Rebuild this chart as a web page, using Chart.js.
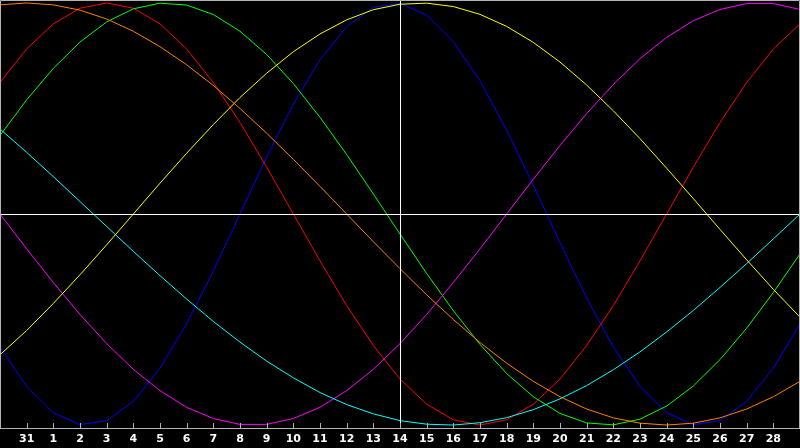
<!DOCTYPE html>
<html>
<head>
<meta charset="utf-8">
<script src="https://cdn.jsdelivr.net/npm/chart.js@4/dist/chart.umd.min.js"></script>
<style>
  html, body { margin: 0; padding: 0; background: #000; }
  #wrap { width: 800px; height: 448px; }
</style>
</head>
<body>
<div id="wrap"><canvas id="bio" width="800" height="448"></canvas></div>
<script>
// day labels (30 Jan .. 1 Mar), first and last are not printed
const days = ['30', '31', '1', '2', '3', '4', '5', '6', '7', '8', '9', '10', '11', '12', '13',
  '14', '15', '16', '17', '18', '19', '20', '21', '22', '23', '24', '25', '26', '27', '28', '1'];
const todayIndex = 15;

// cycle values in percent, one point per day
const physical = [-63.1, -81.7, -94.2, -99.8, -97.9, -88.8, -73.1, -52.0, -27.0, 0, 27.0, 52.0, 73.1, 88.8, 97.9,
  99.8, 94.2, 81.7, 63.1, 39.8, 13.6, -13.6, -39.8, -63.1, -81.7, -94.2, -99.8, -97.9, -88.8, -73.1, -52.0];
const emotional = [62.3, 78.2, 90.1, 97.5, 100, 97.5, 90.1, 78.2, 62.3, 43.4, 22.2, 0, -22.2, -43.4, -62.3,
  -78.2, -90.1, -97.5, -100, -97.5, -90.1, -78.2, -62.3, -43.4, -22.2, 0, 22.2, 43.4, 62.3, 78.2, 90.1];
const intellectual = [37.2, 54.1, 69.0, 81.5, 91.0, 97.2, 99.9, 99.0, 94.5, 86.6, 75.6, 61.8, 45.8, 28.2, 9.5,
  -9.5, -28.2, -45.8, -61.8, -75.6, -86.6, -94.5, -99.0, -99.9, -97.2, -91.0, -81.5, -69.0, -54.1, -37.2, -18.9];
const intuitive = [0, -16.5, -32.5, -47.6, -61.4, -73.6, -83.7, -91.6, -96.9, -99.7, -99.7, -96.9, -91.6, -83.7, -73.6,
  -61.4, -47.6, -32.5, -16.5, 0, 16.5, 32.5, 47.6, 61.4, 73.6, 83.7, 91.6, 96.9, 99.7, 99.7, 96.9];
const aesthetic = [-66.7, -55.2, -42.4, -28.8, -14.6, 0, 14.6, 28.8, 42.4, 55.2, 66.7, 76.9, 85.3, 92.0, 96.8,
  99.4, 99.9, 98.3, 94.6, 88.9, 81.3, 72.0, 61.1, 48.9, 35.7, 21.7, 7.3, -7.3, -21.7, -35.7, -48.9];
const awareness = [99.1, 100, 99.1, 96.6, 92.4, 86.6, 79.3, 70.7, 60.9, 50.0, 38.3, 25.9, 13.1, 0, -13.1,
  -25.9, -38.3, -50.0, -60.9, -70.7, -79.3, -86.6, -92.4, -96.6, -99.1, -100, -99.1, -96.6, -92.4, -86.6, -79.3];
const spiritual = [40.3, 29.2, 17.7, 5.9, -5.9, -17.7, -29.2, -40.3, -50.9, -60.7, -69.7, -77.6, -84.6, -90.3, -94.7,
  -97.9, -99.6, -100, -98.9, -96.5, -92.7, -87.6, -81.3, -73.8, -65.3, -55.9, -45.7, -34.8, -23.5, -11.8, 0];

const FRAME = '#b4b4b4';

function line(data, color) {
  return {
    data,
    borderColor: color,
    borderWidth: 1,
    pointRadius: 0,
    pointHoverRadius: 0,
    tension: 0,
    fill: false,
  };
}

// frame, inner tick marks and the white cross through today / zero
const overlay = {
  id: 'overlay',
  afterDatasetsDraw(chart) {
    const { ctx, chartArea: a, scales: { x, y } } = chart;
    ctx.save();
    ctx.lineWidth = 1;

    ctx.strokeStyle = '#ffffff';
    const y0 = Math.round(y.getPixelForValue(0)) + 0.5;
    const xt = Math.round(x.getPixelForValue(todayIndex)) + 0.5;
    ctx.beginPath();
    ctx.moveTo(a.left, y0); ctx.lineTo(a.right, y0);
    ctx.moveTo(xt, a.top); ctx.lineTo(xt, a.bottom);
    ctx.stroke();

    ctx.strokeStyle = FRAME;
    ctx.beginPath();
    ctx.moveTo(a.left + 0.5, a.bottom + 0.5);
    ctx.lineTo(a.left + 0.5, a.top + 0.5);
    ctx.lineTo(a.right - 0.5, a.top + 0.5);
    ctx.lineTo(a.right - 0.5, a.bottom + 0.5);
    ctx.moveTo(a.left, a.bottom + 0.5);
    ctx.lineTo(a.right, a.bottom + 0.5);
    for (let i = 1; i < days.length - 1; i++) {
      const px = Math.round(x.getPixelForValue(i)) + 0.5;
      ctx.moveTo(px, a.bottom - 5);
      ctx.lineTo(px, a.bottom);
    }
    ctx.stroke();
    ctx.restore();
  },
};

new Chart(document.getElementById('bio'), {
  type: 'line',
  data: {
    labels: days,
    datasets: [
      line(awareness, '#ff8000'),
      line(aesthetic, '#ffff00'),
      line(spiritual, '#00ffff'),
      line(intuitive, '#ff00ff'),
      line(intellectual, '#00ff00'),
      line(emotional, '#ff0000'),
      line(physical, '#0000ff'),
    ],
  },
  options: {
    responsive: false,
    animation: false,
    events: [],
    layout: { padding: 0, autoPadding: false },
    plugins: { legend: { display: false }, tooltip: { enabled: false } },
    scales: {
      x: {
        offset: false,
        grid: { display: false, drawTicks: false },
        border: { display: false },
        ticks: {
          autoSkip: false,
          maxRotation: 0,
          padding: 5,
          color: '#ffffff',
          font: { family: 'DejaVu Sans', size: 11, weight: 'bold' },
          callback: (v, i) => (i === 0 || i === days.length - 1 ? '' : days[i]),
        },
        afterFit: s => { s.height = 20; s.paddingLeft = 0; s.paddingRight = 0; },
      },
      y: {
        display: false,
        min: -101.4,
        max: 101.4,
      },
    },
  },
  plugins: [overlay],
});
</script>
</body>
</html>
